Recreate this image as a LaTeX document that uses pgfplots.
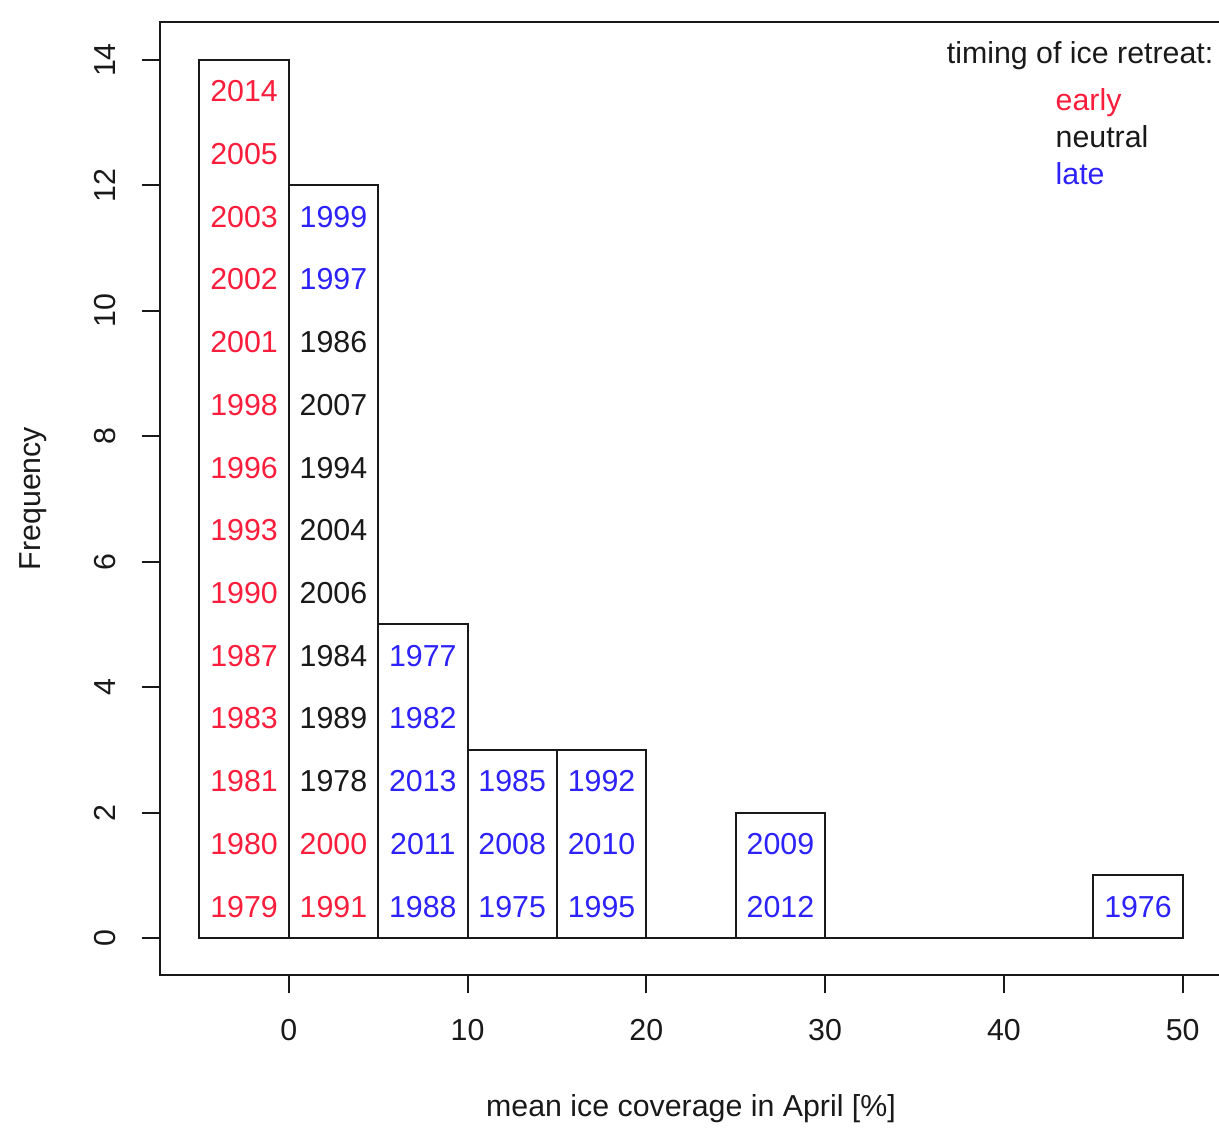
\documentclass[border=0pt]{standalone}
\usepackage{pgfplots}
\pgfplotsset{compat=1.18}
\usepackage{fontspec}
\setmainfont{Liberation Sans}
\definecolor{early}{RGB}{250,30,60}
\definecolor{late}{RGB}{45,35,250}
\definecolor{neutral}{RGB}{25,25,25}
\begin{document}
\fontsize{9.1pt}{11pt}\selectfont
\begin{tikzpicture}
\path[use as bounding box] (0pt,0pt) rectangle (365.7pt,-340.2pt);
\begin{axis}[
  at={(48pt,-292.5pt)}, anchor=south west,
  scale only axis,
  width=318.6pt, height=285.9pt,
  xmin=-7.2, xmax=52.2, ymin=-0.59, ymax=14.606,
  xtick={0,10,20,30,40,50},
  ytick={0,2,4,6,8,10,12,14},
  xtick pos=bottom, ytick pos=left,
  tick align=outside,
  major tick length=5.5pt,
  axis line style={line width=0.6pt, color=neutral},
  every tick/.style={line width=0.6pt, color=neutral},
  /pgf/number format/assume math mode=true,
  ticklabel style={font=\fontsize{9.1pt}{11pt}\selectfont, text=neutral},
  xticklabel shift=4.5pt,
  yticklabel shift=4.5pt,
  yticklabel style={rotate=90, anchor=south},
  xticklabel style={anchor=north},
  xlabel={mean ice coverage in April [\%]},
  ylabel={Frequency},
  xlabel style={at={(axis description cs:0.5,-0.1407)}, anchor=center, font=\fontsize{9.1pt}{11pt}\selectfont, text=neutral},
  ylabel style={at={(axis description cs:-0.1196,0.5)}, anchor=center, rotate=0, font=\fontsize{9.1pt}{11pt}\selectfont, text=neutral},
  clip=false,
  every node near coord/.append style={anchor=center, font=\fontsize{9.1pt}{11pt}\selectfont, inner sep=0pt},
]
% histogram bars
\addplot[ybar interval, fill=white, draw=neutral, line width=0.6pt] coordinates {
  (-5,14) (0,12) (5,5) (10,3) (15,3) (20,0) (25,2) (30,0) (35,0) (40,0) (45,1) (50,1)
};
% year labels: early
\addplot[only marks, mark=none, point meta=explicit symbolic, nodes near coords, every node near coord/.append style={text=early}] table[meta=label] {
x y label
-2.5 0.5 1979
-2.5 1.5 1980
-2.5 2.5 1981
-2.5 3.5 1983
-2.5 4.5 1987
-2.5 5.5 1990
-2.5 6.5 1993
-2.5 7.5 1996
-2.5 8.5 1998
-2.5 9.5 2001
-2.5 10.5 2002
-2.5 11.5 2003
-2.5 12.5 2005
-2.5 13.5 2014
2.5 0.5 1991
2.5 1.5 2000
};
% neutral
\addplot[only marks, mark=none, point meta=explicit symbolic, nodes near coords, every node near coord/.append style={text=neutral}] table[meta=label] {
x y label
2.5 2.5 1978
2.5 3.5 1989
2.5 4.5 1984
2.5 5.5 2006
2.5 6.5 2004
2.5 7.5 1994
2.5 8.5 2007
2.5 9.5 1986
};
% late
\addplot[only marks, mark=none, point meta=explicit symbolic, nodes near coords, every node near coord/.append style={text=late}] table[meta=label] {
x y label
2.5 10.5 1997
2.5 11.5 1999
7.5 0.5 1988
7.5 1.5 2011
7.5 2.5 2013
7.5 3.5 1982
7.5 4.5 1977
12.5 0.5 1975
12.5 1.5 2008
12.5 2.5 1985
17.5 0.5 1995
17.5 1.5 2010
17.5 2.5 1992
27.5 0.5 2012
27.5 1.5 2009
47.5 0.5 1976
};
% legend
\node[anchor=base east, inner sep=0pt, text=neutral] at (axis cs:51.75,13.94) {timing of ice retreat:};
\node[anchor=base west, inner sep=0pt, text=early] at (axis cs:42.86,13.196) {early};
\node[anchor=base west, inner sep=0pt, text=neutral] at (axis cs:42.86,12.609) {neutral};
\node[anchor=base west, inner sep=0pt, text=late] at (axis cs:42.86,12.021) {late};
\end{axis}
\end{tikzpicture}
\end{document}
